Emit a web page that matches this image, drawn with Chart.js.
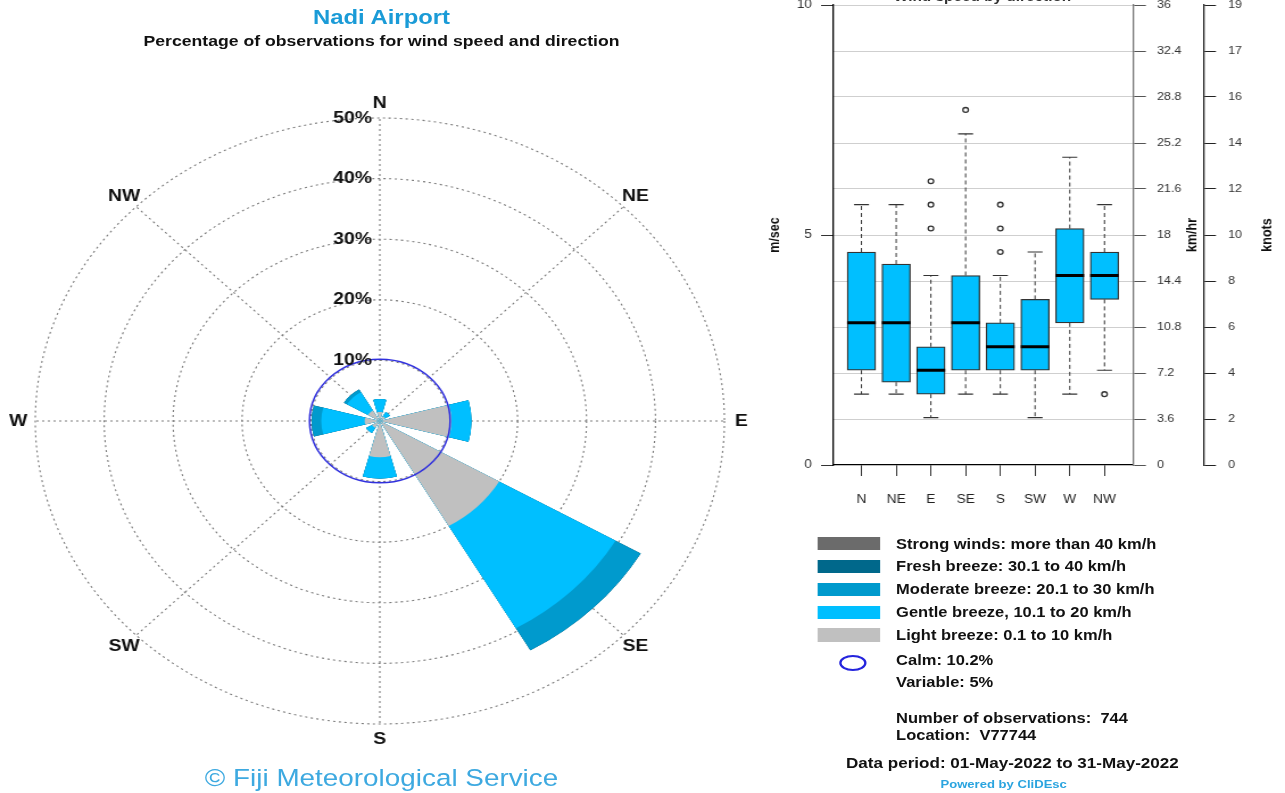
<!DOCTYPE html>
<html>
<head>
<meta charset="utf-8">
<title>Nadi Airport - wind</title>
<script src="https://cdn.jsdelivr.net/npm/chart.js@4.4.1/dist/chart.umd.min.js"></script>
<style>
  html, body { margin: 0; padding: 0; background: #fff; overflow: hidden; }
  /* the reference is stretched sideways, so draw at 1130 wide and scale up */
  #page { position: absolute; left: 0; top: 0; width: 1130px; height: 793px;
          transform: scaleX(1.13717); transform-origin: 0 0;
          font-family: "Liberation Sans", Arial, sans-serif; color: #111; }
  .abs { position: absolute; white-space: pre; }
  .bold { font-weight: bold; }
  #rose { position: absolute; left: -6px; top: 81px; }
  #box { position: absolute; left: 660px; top: 0; }
</style>
</head>
<body>
<div id="page">
  <div class="abs bold" style="left:0;width:671px;top:5px;text-align:center;font-size:21px;line-height:24px;color:#1a9bd7;">Nadi Airport</div>
  <div class="abs bold" style="left:0;width:671px;top:32px;text-align:center;font-size:15.5px;line-height:18px;">Percentage of observations for wind speed and direction</div>
  <canvas id="rose" width="680" height="680"></canvas>
  <div class="abs" style="left:0;width:671px;top:764px;text-align:center;font-size:24.5px;line-height:28px;color:#3da9e0;">© Fiji Meteorological Service</div>

  <div class="abs bold" style="left:732px;width:264px;top:-10px;text-align:center;font-size:13.5px;line-height:13px;color:#333;">Wind speed by direction</div>
  <canvas id="box" width="470" height="515"></canvas>

  <div id="legend"></div>
  <div class="abs" style="left:738px;top:655px;width:20px;height:12px;border:2px solid #2424dd;border-radius:50%;"></div>
  <div class="abs bold" style="left:788px;top:651px;font-size:14.5px;line-height:18px;">Calm: 10.2%</div>
  <div class="abs bold" style="left:788px;top:673px;font-size:14.5px;line-height:18px;">Variable: 5%</div>
  <div class="abs bold" style="left:788px;top:709px;font-size:14.5px;line-height:18px;">Number of observations:  744</div>
  <div class="abs bold" style="left:788px;top:726px;font-size:14.5px;line-height:18px;">Location:  V77744</div>
  <div class="abs bold" style="left:744px;top:754px;font-size:15px;line-height:18px;">Data period: 01-May-2022 to 31-May-2022</div>
  <div class="abs bold" style="left:827px;top:778px;font-size:11.5px;line-height:13px;color:#2aa4df;">Powered by CliDEsc</div>
</div>

<script>
// ---- wind rose data (percent of observations) ----
var compassLabels = ['N', 'NE', 'E', 'SE', 'S', 'SW', 'W', 'NW'];
var ringTicks = [10, 20, 30, 40, 50];
var lightBreeze    = [1.5, 0.9, 10.4, 20.0, 6.0, 1.3, 2.2, 2.0];
var gentleBreeze   = [2.1, 0.8, 2.9, 19.5, 3.5, 1.0, 6.3, 3.5];
var moderateBreeze = [0, 0, 0, 4.2, 0, 0, 1.4, 0.5];
var freshBreeze    = [0, 0, 0, 0, 0, 0, 0, 0];
var strongWinds    = [0, 0, 0, 0, 0, 0, 0, 0];
var calmPct = 10.2;

var bandLabels = ['Light breeze: 0.1 to 10 km/h', 'Gentle breeze, 10.1 to 20 km/h',
  'Moderate breeze: 20.1 to 30 km/h', 'Fresh breeze: 30.1 to 40 km/h', 'Strong winds: more than 40 km/h'];
var bandColors = ['#c0c0c0', '#00bfff', '#009acd', '#00688b', '#6b6b6b'];

// ---- wind speed by direction (m/sec) ----
var boxLabels   = ['N', 'NE', 'E', 'SE', 'S', 'SW', 'W', 'NW'];
var whiskerLow  = [1.54, 1.54, 1.03, 1.54, 1.54, 1.03, 1.54, 2.06];
var quartile1   = [2.06, 1.80, 1.54, 2.06, 2.06, 2.06, 3.09, 3.60];
var medians     = [3.09, 3.09, 2.06, 3.09, 2.57, 2.57, 4.12, 4.12];
var quartile3   = [4.63, 4.37, 2.57, 4.12, 3.09, 3.60, 5.14, 4.63];
var whiskerHigh = [5.66, 5.66, 4.12, 7.20, 4.12, 4.63, 6.69, 5.66];
var outliers    = [[], [], [5.14, 5.66, 6.17], [7.72], [4.63, 5.14, 5.66], [], [], [1.54]];

var kmhTicks = [0, 3.6, 7.2, 10.8, 14.4, 18, 21.6, 25.2, 28.8, 32.4, 36];
var kmhTickLabels = ['0', '3.6', '7.2', '10.8', '14.4', '18', '21.6', '25.2', '28.8', '32.4', '36'];
var knotsTickLabels = ['0', '2', '4', '6', '8', '10', '12', '14', '16', '17', '19'];

Chart.defaults.font.family = "'Liberation Sans', Arial, sans-serif";
Chart.defaults.color = '#222';

// legend on the right
var legendHtml = '';
for (var b = bandLabels.length - 1; b >= 0; b--) {
    var row = bandLabels.length - 1 - b;
    var cy = 543.5 + row * 22.9;
    legendHtml += '<div class="abs" style="left:719px;top:' + (cy - 6.7) + 'px;width:54.5px;height:13.3px;background:' + bandColors[b] + ';"></div>';
    legendHtml += '<div class="abs bold" style="left:788px;top:' + (cy - 9) + 'px;font-size:14.5px;line-height:18px;">' + bandLabels[b] + '</div>';
}
document.getElementById('legend').innerHTML = legendHtml;

// each direction gets a 30 degree petal and a 15 degree gap; N is split around 0
function toSlices(vals) {
    var out = [vals[0], 0];
    for (var d = 1; d < vals.length; d++) {
        out.push(vals[d], 0);
    }
    out.push(vals[0]);
    return out;
}
var sliceAngles = [15, 15];
for (var d = 1; d < 8; d++) { sliceAngles.push(30, 15); }
sliceAngles.push(15);
var sliceLabels = sliceAngles.map(function(a, i) { return 's' + i; });

// bands are stacked outward, so draw cumulative totals; dataset 0 is painted last
var bands = [lightBreeze, gentleBreeze, moderateBreeze, freshBreeze, strongWinds];
var running = [0, 0, 0, 0, 0, 0, 0, 0];
var roseDatasets = bands.map(function(band, b) {
    running = running.map(function(v, i) { return v + band[i]; });
    return {
        label: bandLabels[b],
        data: toSlices(running),
        backgroundColor: bandColors[b],
        borderWidth: 0,
        angle: sliceAngles
    };
});

var calmCircle = {
    id: 'calmCircle',
    afterDatasetsDraw: function(chart) {
        var s = chart.scales.r, ctx = chart.ctx;
        ctx.save();
        ctx.beginPath();
        ctx.arc(s.xCenter, s.yCenter, s.getDistanceFromCenterForValue(calmPct), 0, Math.PI * 2);
        ctx.strokeStyle = '#3030dd';
        ctx.lineWidth = 1.5;
        ctx.stroke();
        ctx.restore();
    }
};

var roseText = {
    id: 'roseText',
    afterDraw: function(chart) {
        var s = chart.scales.r, ctx = chart.ctx;
        ctx.save();
        ctx.fillStyle = '#111';
        ctx.font = 'bold 17px "Liberation Sans", Arial, sans-serif';
        ctx.textBaseline = 'middle';
        ctx.textAlign = 'right';
        ringTicks.forEach(function(v) {
            ctx.fillText(v + '%', s.xCenter - 7, s.yCenter - s.getDistanceFromCenterForValue(v));
        });
        ctx.textAlign = 'center';
        compassLabels.forEach(function(lab, i) {
            var p = s.getPointPosition(i, s.drawingArea + 15);
            ctx.fillText(lab, p.x, p.y);
        });
        ctx.restore();
    }
};

new Chart(document.getElementById('rose'), {
    type: 'polarArea',
    data: { labels: sliceLabels, datasets: roseDatasets },
    options: {
        responsive: false,
        animation: false,
        layout: { padding: 37, autoPadding: false },
        plugins: { legend: { display: false }, tooltip: { enabled: false } },
        scales: {
            r: {
                min: 0,
                max: 50,
                labels: compassLabels,
                ticks: { display: false, stepSize: 10 },
                grid: { circular: true, color: '#7a7a7a', lineWidth: 1.1 },
                border: { dash: [2, 3] },
                angleLines: { display: true, color: '#7a7a7a', lineWidth: 1.1, borderDash: [2, 3] },
                pointLabels: { display: false }
            }
        }
    },
    plugins: [calmCircle, roseText]
});

// ---- box plot ----
var boxData = boxLabels.map(function(l, i) { return { x: i + 1, y: [quartile1[i], quartile3[i]] }; });
var medianData = boxLabels.map(function(l, i) { return { x: i + 1, y: medians[i] }; });
var capData = [];
var whiskerData = [];
var outlierData = [];
boxLabels.forEach(function(l, i) {
    capData.push({ x: i + 1, y: whiskerHigh[i] }, { x: i + 1, y: whiskerLow[i] });
    whiskerData.push({ x: i + 1, y: quartile3[i] }, { x: i + 1, y: whiskerHigh[i] }, { x: i + 1, y: null });
    whiskerData.push({ x: i + 1, y: quartile1[i] }, { x: i + 1, y: whiskerLow[i] }, { x: i + 1, y: null });
    outliers[i].forEach(function(v) { outlierData.push({ x: i + 1, y: v }); });
});

function fixWidth(w) {
    return function(scale) { scale.width = w; scale.paddingTop = 0; scale.paddingBottom = 0; };
}
function kmhTickList(scale) {
    scale.ticks = kmhTicks.map(function(v) { return { value: v }; });
}

var sideTitles = {
    id: 'sideTitles',
    afterDraw: function(chart) {
        var ctx = chart.ctx, area = chart.chartArea;
        var items = [
            [chart.scales.y.left + 21.5, 'm/sec'],
            [chart.scales.y2.right - 10.5, 'km/hr'],
            [chart.scales.y3.right - 15, 'knots']
        ];
        ctx.save();
        ctx.fillStyle = '#111';
        ctx.font = 'bold 12.5px "Liberation Sans", Arial, sans-serif';
        ctx.textAlign = 'center';
        ctx.textBaseline = 'middle';
        items.forEach(function(it) {
            ctx.save();
            ctx.translate(it[0], (area.top + area.bottom) / 2);
            ctx.rotate(-Math.PI / 2);
            ctx.fillText(it[1], 0, 0);
            ctx.restore();
        });
        ctx.restore();
    }
};

new Chart(document.getElementById('box'), {
    type: 'bar',
    data: {
        datasets: [
            { type: 'line', label: 'median', data: medianData, showLine: false,
              pointStyle: 'line', pointRadius: 12.6, pointBorderWidth: 3, pointBorderColor: '#000' },
            { type: 'line', label: 'outliers', data: outlierData, showLine: false,
              pointStyle: 'circle', pointRadius: 2.4, pointBorderWidth: 1.3,
              pointBorderColor: '#333', pointBackgroundColor: '#fff' },
            { type: 'line', label: 'caps', data: capData, showLine: false,
              pointStyle: 'line', pointRadius: 6.6, pointBorderWidth: 1.2, pointBorderColor: '#333' },
            { type: 'line', label: 'whiskers', data: whiskerData, spanGaps: false, fill: false,
              borderColor: '#333', borderWidth: 1, borderDash: [4, 3], pointRadius: 0 },
            { type: 'bar', label: 'boxes', data: boxData, backgroundColor: '#00bfff',
              borderColor: '#333', borderWidth: 1.3, borderSkipped: false, barThickness: 25 }
        ]
    },
    options: {
        responsive: false,
        animation: false,
        layout: { padding: { top: 5, left: 0, right: 0, bottom: 0 }, autoPadding: false },
        plugins: { legend: { display: false }, tooltip: { enabled: false } },
        scales: {
            x: {
                type: 'linear', offset: false, min: 0.18, max: 8.82,
                afterBuildTicks: function(scale) {
                    scale.ticks = boxLabels.map(function(l, i) { return { value: i + 1 }; });
                },
                afterFit: function(scale) { scale.height = 50; scale.paddingLeft = 0; scale.paddingRight = 0; },
                ticks: {
                    callback: function(v, i) { return boxLabels[i]; },
                    font: { size: 12 }, color: '#222', padding: 16, maxRotation: 0, autoSkip: false
                },
                grid: { offset: false, drawOnChartArea: false, tickLength: 11, tickColor: '#333' },
                border: { color: '#000', width: 1.3 }
            },
            y: {
                position: 'left', min: 0, max: 10,
                afterFit: fixWidth(72.5),
                ticks: { stepSize: 5, font: { size: 12 }, color: '#333', padding: 8 },
                grid: { drawOnChartArea: false, tickLength: 10.5, tickColor: '#333' },
                border: { color: '#000', width: 1.3 }
            },
            y2: {
                position: 'right', min: 0, max: 36,
                afterBuildTicks: kmhTickList,
                afterFit: fixWidth(62.4),
                ticks: {
                    callback: function(v, i) { return kmhTickLabels[i]; },
                    font: { size: 11 }, color: '#333', padding: 9.7
                },
                grid: {
                    color: function(c) { return c.tick && c.tick.value === 0 ? 'rgba(0,0,0,0)' : '#cfcfcf'; },
                    tickColor: '#555', tickLength: 11.4, lineWidth: 1
                },
                border: { color: '#777', width: 1.3 }
            },
            y3: {
                position: 'right', min: 0, max: 36,
                afterBuildTicks: kmhTickList,
                afterFit: fixWidth(71.3),
                ticks: {
                    callback: function(v, i) { return knotsTickLabels[i]; },
                    font: { size: 11 }, color: '#333', padding: 10.6
                },
                grid: { drawOnChartArea: false, tickColor: '#222', tickLength: 10.6 },
                border: { color: '#222', width: 1.3 }
            }
        }
    },
    plugins: [sideTitles]
});
</script>
</body>
</html>
